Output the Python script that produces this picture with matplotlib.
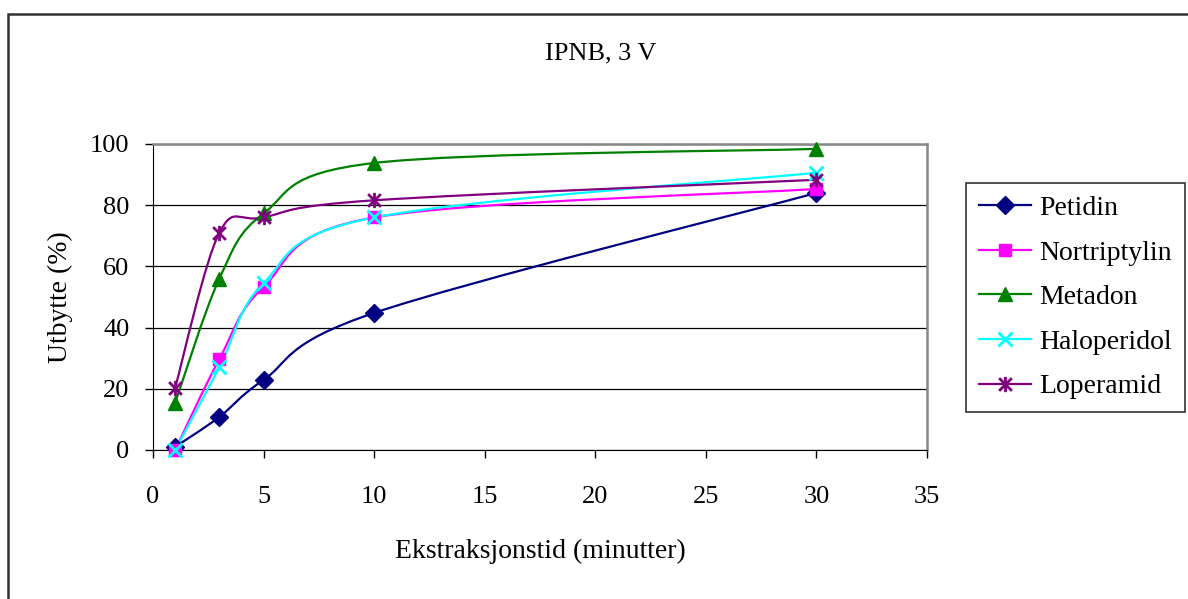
import numpy as np
import matplotlib
matplotlib.use("Agg")
from matplotlib import pyplot as plt
from matplotlib.path import Path
from matplotlib.patches import PathPatch, Rectangle
from matplotlib.lines import Line2D

plt.rcParams['font.family'] = ['Liberation Serif', 'DejaVu Serif']

minutes = [1, 3, 5, 10, 30]
petidin = [1, 10.8, 22.9, 44.8, 84]
nortriptylin = [0, 29.7, 53.3, 76, 85.3]
metadon = [15.4, 56, 77.3, 93.8, 98.4]
haloperidol = [0, 27, 54.6, 76, 90.6]
loperamid = [20.3, 71, 76, 81.6, 88.3]

names = ['Petidin', 'Nortriptylin', 'Metadon', 'Haloperidol', 'Loperamid']
series = [petidin, nortriptylin, metadon, haloperidol, loperamid]
colors = ['#000080', '#FF00FF', '#008000', '#00FFFF', '#800080']

# asterisk marker like the Excel "star"
star = Path([(-1, -1), (1, 1), (-1, 1), (1, -1), (0, -1.2), (0, 1.2)],
            [Path.MOVETO, Path.LINETO, Path.MOVETO, Path.LINETO, Path.MOVETO, Path.LINETO])
markers = ['D', 's', '^', 'x', star]
msizes = [9, 9, 10, 10, 11]


def smooth_path(x, y):
    # Excel style smoothed line: cubic bezier with catmull-rom control points
    pts = np.column_stack([x, y]).astype(float)
    n = len(pts)
    verts = [pts[0]]
    codes = [Path.MOVETO]
    for i in range(n - 1):
        p0 = pts[max(i - 1, 0)]
        p1 = pts[i]
        p2 = pts[i + 1]
        p3 = pts[min(i + 2, n - 1)]
        c1 = p1 + (p2 - p0) / 6.0
        c2 = p2 - (p3 - p1) / 6.0
        verts += [c1, c2, p2]
        codes += [Path.CURVE4] * 3
    return Path(verts, codes)


fig = plt.figure(figsize=(11.88, 5.99), dpi=100)
ax = fig.add_axes([153 / 1188, 1 - 450 / 599, (927 - 153) / 1188, (450 - 144) / 599])

handles = []
for name, vals, c, m, ms in zip(names, series, colors, markers, msizes):
    ax.add_patch(PathPatch(smooth_path(minutes, vals), fill=False, edgecolor=c, lw=1.6, zorder=3))
    ax.plot(minutes, vals, linestyle='none', marker=m, markersize=ms, color=c,
            markeredgewidth=2 if m in ('x', star) else 1, zorder=4, clip_on=False)
    handles.append(Line2D([], [], color=c, lw=1.6, marker=m, markersize=ms,
                          markeredgewidth=2 if m in ('x', star) else 1))

ax.set_xlim(0, 35)
ax.set_ylim(0, 100)
ax.set_xticks(range(0, 36, 5))
ax.set_yticks(range(0, 101, 20))
ax.yaxis.grid(True, color='black', lw=0.9)
ax.set_axisbelow(True)
ax.tick_params(labelsize=19, direction='out', length=6, width=1, color='black')
ax.tick_params(axis='x', pad=20)
ax.tick_params(axis='y', pad=11)
ax.spines['left'].set_color('black')
ax.spines['bottom'].set_color('black')
ax.spines['top'].set_color('#888888')
ax.spines['right'].set_color('#888888')
ax.spines['top'].set_linewidth(1.8)
ax.spines['right'].set_linewidth(1.8)

ax.set_xlabel('Ekstraksjonstid (minutter)', fontsize=20, va='center')
ax.xaxis.set_label_coords(0.5, (450 - 551) / 306)
ax.set_ylabel('Utbytte (%)', fontsize=20, va='center')
ax.yaxis.set_label_coords((60 - 153) / 774, 0.5)
fig.text(601 / 1188, 1 - 53 / 599, 'IPNB, 3 V', ha='center', va='center', fontsize=19)

leg = fig.legend(handles, names, loc='upper left', bbox_to_anchor=(966 / 1188, 1 - 183 / 599),
                 fontsize=20, frameon=True, fancybox=False, handlelength=1.9,
                 labelspacing=0.69, borderpad=0.45, borderaxespad=0, handletextpad=0.3)
leg.get_frame().set_edgecolor('black')
leg.get_frame().set_linewidth(1.2)

# outer chart border (runs off the right and bottom edges)
fig.patches.append(Rectangle((8 / 1188, -0.05), 1.1, 1 - 14 / 599 + 0.05, transform=fig.transFigure,
                             fill=False, edgecolor='#333333', lw=1.8))

fig.savefig('out.png', dpi=100)
